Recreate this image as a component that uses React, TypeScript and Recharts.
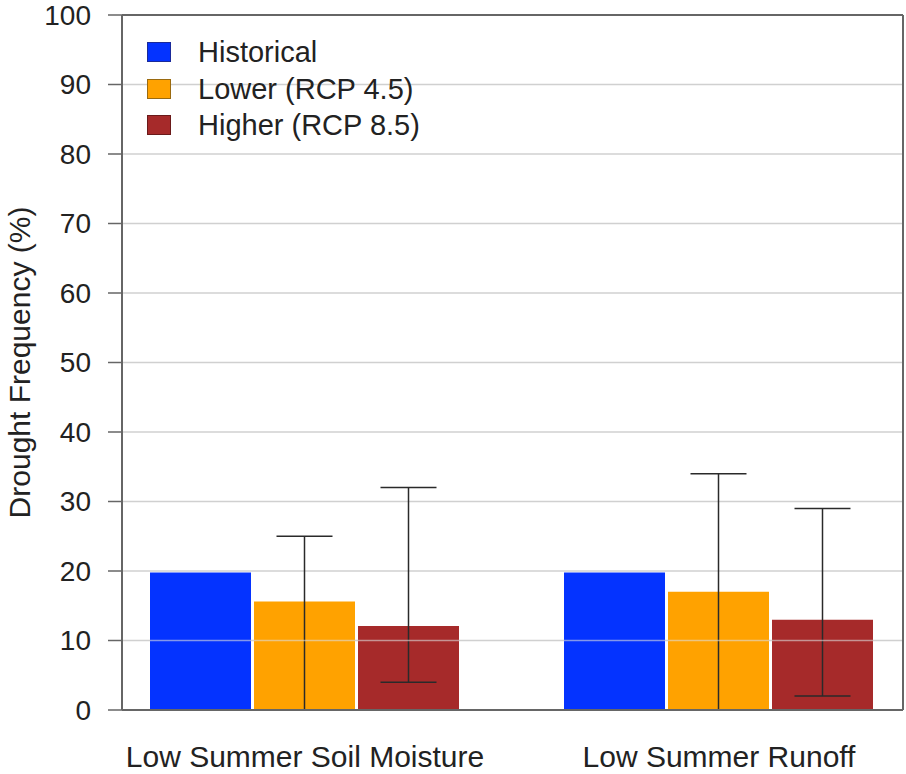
import React from 'react';
import {
  BarChart,
  Bar,
  XAxis,
  YAxis,
  ErrorBar,
  Legend,
  ReferenceLine,
  CartesianGrid,
  LabelList,
} from 'recharts';

const categories = ['Low Summer Soil Moisture', 'Low Summer Runoff'];
const historical = [19.8, 19.8];
const lower = [15.6, 17.0];
const higher = [12.1, 13.0];
const lowerRangeLow = [0, 0];
const lowerRangeHigh = [25, 34];
const higherRangeLow = [4, 2];
const higherRangeHigh = [32, 29];
const yTicks = [0, 10, 20, 30, 40, 50, 60, 70, 80, 90, 100];
const yDomain: [number, number] = [0, 100];

const seriesNames = ['Historical', 'Lower (RCP 4.5)', 'Higher (RCP 8.5)'];
const seriesColors = ['#0433FF', '#FFA200', '#A62A2A'];
const seriesBorders = ['#1a2a9a', '#9a6a10', '#6a1a1a'];

const data = categories.map((category, i) => ({
  category,
  historical: historical[i],
  lower: lower[i],
  higher: higher[i],
  lowerErr: [lower[i] - lowerRangeLow[i], lowerRangeHigh[i] - lower[i]],
  higherErr: [higher[i] - higherRangeLow[i], higherRangeHigh[i] - higher[i]],
}));

const FONT = '"Liberation Sans", Arial, Helvetica, sans-serif';
const TEXT = '#222';
const AXIS = '#666';

// Label content: grid lines that show through the bar (drawn above the bar)
const GridThroughBar = (props: any) => {
  const vb = props.viewBox || props;
  const X = Number(vb.x);
  const Y = Number(vb.y);
  const W = Number(vb.width);
  const H = Number(vb.height);
  const v = Array.isArray(props.value)
    ? Number(props.value[1]) - Number(props.value[0])
    : Number(props.value);
  if (!(W > 0) || !(H > 0) || !(v > 0)) return <g />;
  const ppu = H / v;
  const lines: number[] = [];
  yTicks.forEach((t) => {
    if (t > yDomain[0] && t < v) lines.push(Y + H - t * ppu);
  });
  return (
    <g>
      {lines.map((gy, k) => (
        <line
          key={k}
          x1={X}
          x2={X + W}
          y1={gy}
          y2={gy}
          stroke="#dcdcdc"
          strokeOpacity={0.6}
          strokeWidth={1.5}
        />
      ))}
    </g>
  );
};

const LegendContent = () => (
  <div style={{ fontFamily: FONT, fontSize: 29, color: TEXT }}>
    {seriesNames.map((name, i) => (
      <div
        key={name}
        style={{ display: 'flex', alignItems: 'center', height: 36.5 }}
      >
        <div
          style={{
            width: 22,
            height: 18,
            background: seriesColors[i],
            border: `1px solid ${seriesBorders[i]}`,
            marginRight: 27,
          }}
        />
        <span style={{ lineHeight: '36px' }}>{name}</span>
      </div>
    ))}
  </div>
);

const YLabel = (props: any) => {
  const vb = props.viewBox || {};
  const cy = (vb.y || 0) + (vb.height || 0) / 2;
  const x = 30;
  return (
    <text
      x={x}
      y={cy}
      transform={`rotate(-90, ${x}, ${cy})`}
      textAnchor="middle"
      fontFamily={FONT}
      fontSize={30}
      fill={TEXT}
    >
      Drought Frequency (%)
    </text>
  );
};

export default function App() {
  return (
    <div style={{ position: 'absolute', left: 0, top: 0, background: '#fff' }}>
      <BarChart
        width={906}
        height={774}
        data={data}
        margin={{ top: 15, right: 0, bottom: 0, left: 0 }}
        barCategoryGap={52}
        barGap={3}
      >
        <CartesianGrid vertical={false} stroke="#d0d0d0" strokeWidth={1.5} />
        <XAxis
          dataKey="category"
          padding={{ left: -24, right: -23 }}
          tickLine={false}
          tickSize={0}
          tickMargin={36}
          height={64}
          axisLine={{ stroke: AXIS, strokeWidth: 2 }}
          tick={{ fontFamily: FONT, fontSize: 30, fill: TEXT }}
          interval={0}
        />
        <YAxis
          domain={yDomain}
          ticks={yTicks}
          width={122}
          tickSize={14}
          tickMargin={17}
          interval={0}
          axisLine={{ stroke: AXIS, strokeWidth: 2 }}
          tickLine={{ stroke: AXIS, strokeWidth: 1.5 }}
          tick={{ fontFamily: FONT, fontSize: 28, fill: TEXT }}
          label={YLabel}
        />
        <YAxis
          yAxisId="right"
          orientation="right"
          domain={yDomain}
          width={3}
          tick={false}
          tickLine={false}
          axisLine={{ stroke: AXIS, strokeWidth: 2 }}
        />
        <Bar
          dataKey="historical"
          name={seriesNames[0]}
          fill={seriesColors[0]}
          isAnimationActive={false}
        >
          <LabelList dataKey="historical" content={GridThroughBar} />
        </Bar>
        <Bar
          dataKey="lower"
          name={seriesNames[1]}
          fill={seriesColors[1]}
          isAnimationActive={false}
        >
          <LabelList dataKey="lower" content={GridThroughBar} />
          <ErrorBar
            dataKey="lowerErr"
            width={28}
            stroke="#2a2a2a"
            strokeWidth={1.5}
            direction="y"
            isAnimationActive={false}
          />
        </Bar>
        <Bar
          dataKey="higher"
          name={seriesNames[2]}
          fill={seriesColors[2]}
          isAnimationActive={false}
        >
          <LabelList dataKey="higher" content={GridThroughBar} />
          <ErrorBar
            dataKey="higherErr"
            width={28}
            stroke="#2a2a2a"
            strokeWidth={1.5}
            direction="y"
            isAnimationActive={false}
          />
        </Bar>
        <ReferenceLine y={100} stroke={AXIS} strokeWidth={2} />
        <Legend
          layout="vertical"
          align="center"
          verticalAlign="middle"
          content={LegendContent}
          wrapperStyle={{ left: 147, top: 34, width: 'auto', height: 'auto' }}
        />
      </BarChart>
    </div>
  );
}
